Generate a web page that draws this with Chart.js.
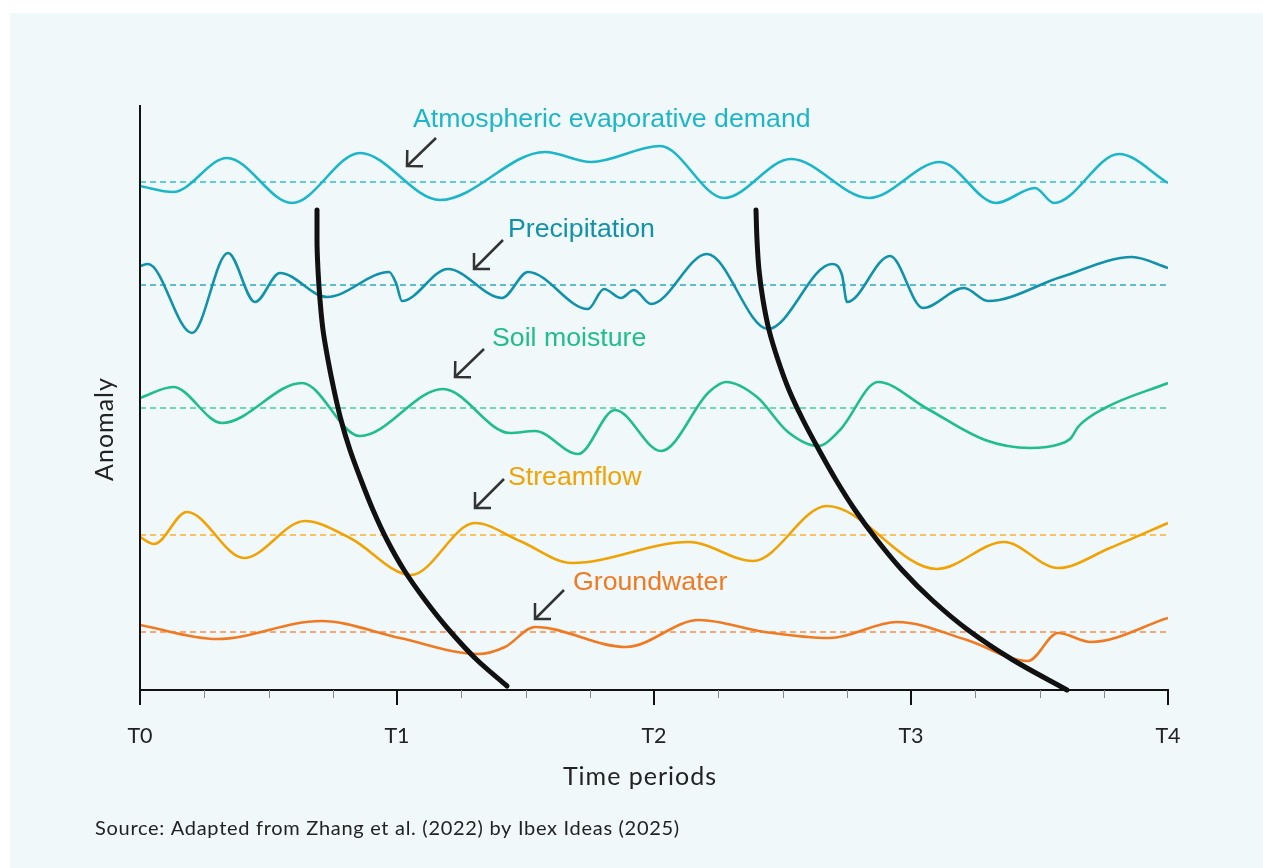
<!DOCTYPE html>
<html><head><meta charset="utf-8">
<script src="https://cdn.jsdelivr.net/npm/chart.js@4.4.1/dist/chart.umd.min.js"></script>
<style>html,body{margin:0;padding:0;background:#fff;}canvas{display:block;}</style>
</head><body>
<canvas id="c" width="1263" height="868"></canvas>
<script>
// ---- data (time units: one period = 257; anomaly units, arbitrary) ----
const periodLabels = ['T0', 'T1', 'T2', 'T3', 'T4'];
const periodValues = [0, 257, 514, 771, 1028];
const seriesNames = ['Atmospheric evaporative demand', 'Precipitation', 'Soil moisture', 'Streamflow', 'Groundwater'];
const baselines = [508, 405, 282, 155, 58];

const atmosphericDemand = [[0,504],[33,498],[87,532],[152,487],[220,537],[300,490],[405,538],[451,528],[520,544],[584,492],[651,531],[729,492],[800,528],[856,487],[895,502],[914,487],[979,536],[1028,507]];
const precipitation = [[0,424],[8,426],[52,357],[88,437],[115,388],[140,417],[187,393],[249,418],[256,407],[262,389],[308,421],[362,392],[388,418],[448,381],[464,401],[481,392],[494,400],[511,386],[567,436],[628,361],[692,426],[702,415],[707,388],[750,434],[783,382],[824,402],[848,389],[921,413],[992,433],[1028,422]];
const soilMoisture = [[0,292],[33,303],[82,267],[162,307],[220,254],[303,301],[370,257],[395,259],[438,236],[475,280],[521,239],[569,298],[586,308],[617,293],[648,258],[678,244],[700,260],[738,308],[786,282],[845,250],[890,242],[920,246],[931,252],[938,263],[965,282],[1028,307]];
const streamflow = [[0,153],[14,146],[47,178],[104,132],[165,169],[210,152],[271,115],[335,167],[380,149],[432,127],[549,148],[613,129],[687,184],[797,121],[864,148],[918,122],[970,142],[1028,167]];
const groundwater = [[0,65],[77,51],[181,69],[260,52],[338,36],[365,43],[395,63],[486,43],[559,70],[625,58],[690,52],[757,68],[827,50],[888,29],[918,57],[951,48],[1028,72]];
const propagationFront1 = [[367,4],[337,30],[309,60],[285,90],[264,120],[247,150],[233,180],[221,210],[210,240],[201,270],[194,300],[188,330],[183,360],[180,390],[178,420],[177,450],[177,480]];
const propagationFront2 = [[927,0],[873,30],[828,60],[792,90],[762,120],[737,150],[715,180],[696,210],[679,240],[663,270],[649,300],[638,330],[629,360],[623,390],[619,420],[617,450],[616,480]];

// ---- styles ----
const lineColors = ['#1db6c9', '#1192aa', '#22bd8c', '#f0a304', '#f07a21'];
const dashColors = ['#62cdd9', '#5fbccc', '#72d7b5', '#f6c360', '#f6a978'];
const labelAnchors = [[273,563],[368,453],[352,344],[368,205],[433,100]];
const arrowTips = [[267,524],[334,421],[315,313],[335,182],[395,71]];
const arrowTails = [[296,552],[363,450],[344,341],[364,211],[424,100]];

const toXY = a => a.map(p => ({x: p[0], y: p[1]}));
const series = [atmosphericDemand, precipitation, soilMoisture, streamflow, groundwater];

const datasets = [];
[propagationFront1, propagationFront2].forEach(f => datasets.push({
  data: toXY(f), indexAxis: 'y', borderColor: '#111', borderWidth: 5,
  cubicInterpolationMode: 'monotone', pointRadius: 0, borderCapStyle: 'round', order: 0, clip: false
}));
series.forEach((s, i) => datasets.push({
  data: toXY(s), borderColor: lineColors[i], borderWidth: 2.6,
  cubicInterpolationMode: 'monotone', pointRadius: 0, order: 1
}));
baselines.forEach((b, i) => datasets.push({
  data: [{x: 0, y: b}, {x: 1028, y: b}], borderColor: dashColors[i], borderWidth: 1.8,
  borderDash: [6, 4], pointRadius: 0, order: 2
}));

const bgPlugin = {
  id: 'bg',
  beforeDraw(chart) {
    const c = chart.ctx;
    c.save();
    c.fillStyle = '#ffffff'; c.fillRect(0, 0, chart.width, chart.height);
    c.fillStyle = '#f0f8fa'; c.fillRect(10, 13, chart.width - 10, chart.height - 13);
    c.restore();
  }
};

const decorPlugin = {
  id: 'decor',
  afterDraw(chart) {
    const c = chart.ctx, xs = chart.scales.x, ys = chart.scales.y, a = chart.chartArea;
    c.save();
    // axes
    c.strokeStyle = '#111'; c.lineWidth = 2; c.lineCap = 'butt';
    c.beginPath(); c.moveTo(a.left, a.top); c.lineTo(a.left, a.bottom); c.lineTo(a.right + 1, a.bottom); c.stroke();
    // ticks
    for (let v = 0; v <= 1028 + 0.1; v += 64.25) {
      const px = Math.round(xs.getPixelForValue(v));
      const major = periodValues.some(p => Math.abs(p - v) < 0.5);
      c.beginPath();
      c.strokeStyle = major ? '#111' : '#888';
      c.lineWidth = major ? 2 : 1;
      c.moveTo(px + (major ? 0 : 0.5), a.bottom);
      c.lineTo(px + (major ? 0 : 0.5), a.bottom + (major ? 15 : 8));
      c.stroke();
    }
    // series labels
    c.font = '26.7px "Liberation Sans", Arial, sans-serif';
    c.textBaseline = 'alphabetic'; c.textAlign = 'left';
    seriesNames.forEach((n, i) => {
      c.fillStyle = lineColors[i];
      c.fillText(n, xs.getPixelForValue(labelAnchors[i][0]), ys.getPixelForValue(labelAnchors[i][1]));
    });
    // arrows
    c.strokeStyle = '#333'; c.lineWidth = 2.5; c.lineCap = 'butt'; c.lineJoin = 'miter';
    arrowTips.forEach((t, i) => {
      const tx = xs.getPixelForValue(t[0]), ty = ys.getPixelForValue(t[1]);
      const sx = xs.getPixelForValue(arrowTails[i][0]), sy = ys.getPixelForValue(arrowTails[i][1]);
      const ang = Math.atan2(sy - ty, sx - tx), L = 16;
      c.beginPath(); c.moveTo(sx, sy); c.lineTo(tx, ty); c.stroke();
      c.beginPath();
      c.moveTo(tx + L * Math.cos(ang - Math.PI / 4), ty + L * Math.sin(ang - Math.PI / 4));
      c.lineTo(tx, ty);
      c.lineTo(tx + L * Math.cos(ang + Math.PI / 4), ty + L * Math.sin(ang + Math.PI / 4));
      c.stroke();
    });
    // axis titles and source
    c.fillStyle = '#222';
    c.font = '25px Lato, sans-serif';
    c.letterSpacing = '1px';
    c.textAlign = 'center'; c.textBaseline = 'middle';
    c.fillText('Time periods', 640, 777);
    c.save(); c.translate(105, 429); c.rotate(-Math.PI / 2); c.fillText('Anomaly', 0, 0); c.restore();
    c.font = '20px Lato, sans-serif'; c.textAlign = 'left';
    c.letterSpacing = '0.7px';
    c.fillText('Source: Adapted from Zhang et al. (2022) by Ibex Ideas (2025)', 95, 829);
    c.restore();
  }
};

new Chart(document.getElementById('c'), {
  type: 'line',
  data: { datasets },
  options: {
    responsive: false, animation: false,
    layout: { padding: { left: 140, right: 95, top: 105, bottom: 0 } },
    plugins: { legend: { display: false }, tooltip: { enabled: false } },
    scales: {
      x: {
        type: 'linear', min: 0, max: 1028,
        afterBuildTicks: s => { s.ticks = periodValues.map(v => ({ value: v })); },
        afterFit: s => { s.height = 178; },
        grid: { display: false, drawTicks: false },
        border: { display: false },
        ticks: {
          padding: 33, color: '#222', font: { family: 'Lato', size: 21.5 },
          maxRotation: 0, autoSkip: false,
          callback: v => periodLabels[periodValues.indexOf(v)]
        }
      },
      y: { type: 'linear', min: 0, max: 585, display: false }
    }
  },
  plugins: [bgPlugin, decorPlugin]
});
</script>
</body></html>
